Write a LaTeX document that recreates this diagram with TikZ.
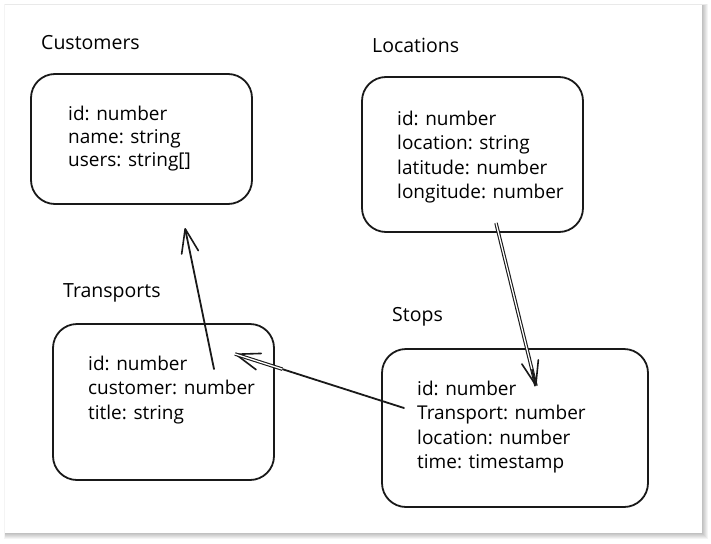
\documentclass[tikz,border=0pt]{standalone}
\usepackage{fontspec}
\setmainfont{Open Sans}
\usetikzlibrary{arrows.meta,calc}

\tikzset{
  table/.style={draw=black!90, line width=1.8pt, rounded corners=24pt, inner sep=0pt},
  fields/.style={align=left, anchor=west, inner sep=0pt, font=\fontsize{19}{24.6}\selectfont},
  title/.style={anchor=west, inner sep=0pt, font=\fontsize{19.5}{22}\selectfont},
  link/.style={draw=black!90, line width=1.8pt, line cap=round,
    -{Straight Barb[length=24pt,width=17pt,line width=1.6pt,round]}},
  twin/.style={draw=black!90, double=white, double distance=1.3pt, line width=1.1pt}
}

\begin{document}
\begin{tikzpicture}[x=1pt, y=-1pt]
	\useasboundingbox (0,0) rectangle (711,543);
	% sheet with shadow
	\fill[white] (0,0) rectangle (711,543);
	\foreach \s in {1,...,6}
		\fill[black, opacity=0.045] (5-\s*0.1,5-\s*0.1) rectangle (702+\s,533+\s);
	\fill[white] (5,5) rectangle (702,533);

	% tables
	\node[table, minimum width=221, minimum height=130] (customers) at (141.5,139) {};
	\node[table, minimum width=221, minimum height=155] (locations) at (472.5,154.5) {};
	\node[table, minimum width=221, minimum height=156] (transports) at (163.5,402) {};
	\node[table, minimum width=266, minimum height=158] (stops) at (515,428) {};

	% titles
	\node[title] (customers-title) at (41,43) {Customers};
	\node[title] (locations-title) at (372,45) {Locations};
	\node[title] (transports-title) at (63,293) {Transports};
	\node[title] (stops-title) at (392,317) {Stops};

	% fields
	\node[fields, font=\fontsize{19}{23}\selectfont] (customers-fields) at (68,139) {id: number\\name: string\\users: string[]};
	\node[fields] (locations-fields) at (397,157) {id: number\\location: string\\latitude: number\\longitude: number};
	\node[fields] (transports-fields) at (88,390) {id: number\\customer: number\\title: string};
	\node[fields] (stops-fields) at (417,427) {id: number\\Transport: number\\location: number\\time: timestamp};

	% arrow ends
	\coordinate (transports-out) at (214,369);
	\coordinate (customers-in) at (185,228);
	\coordinate (locations-out) at (496,223);
	\coordinate (stops-in) at (536,386);
	\coordinate (stops-out) at (404,408);
	\coordinate (transports-in) at (235,354);

	% relations
	\draw[link] (transports-out) -- (customers-in);
	\draw[twin] (locations-out) -- (stops-in);
	\draw[link] ($(locations-out)!0.9!(stops-in)$) -- (stops-in);
	\draw[link] (stops-out) -- (transports-in);
	\draw[twin] ($(stops-out)!0.72!(transports-in)$) -- (transports-in);
\end{tikzpicture}
\end{document}
